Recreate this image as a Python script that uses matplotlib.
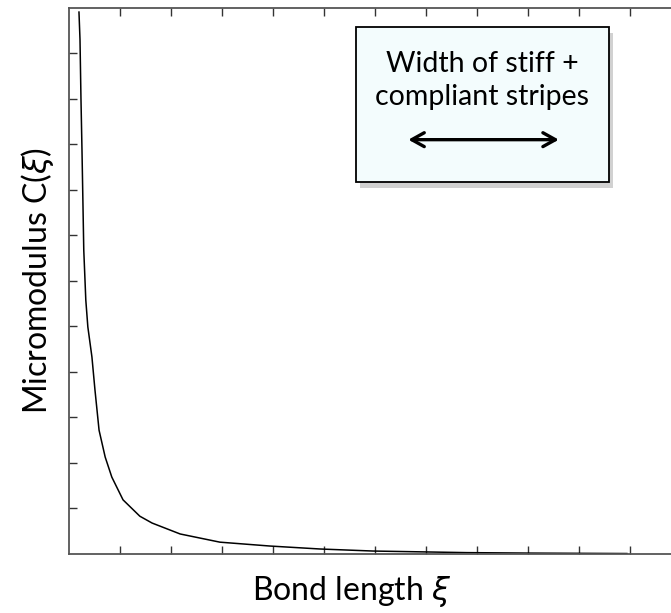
import matplotlib
matplotlib.use("Agg")
import matplotlib.pyplot as plt
import matplotlib.patheffects as pe
from matplotlib.patches import FancyBboxPatch
import numpy as np

plt.rcParams['font.family'] = ['Lato', 'DejaVu Sans']
plt.rcParams['mathtext.fontset'] = 'dejavusans'

# micromodulus profile, arbitrary units (12 x 12 tick grid)
bond_length = [0.196, 0.216, 0.235, 0.255, 0.275, 0.29, 0.33, 0.37, 0.45, 0.51,
               0.59, 0.71, 0.84, 1.06, 1.39, 1.63, 2.18, 2.96, 3.94, 4.92,
               5.96, 7.8, 9.0, 10.94]
micromodulus = [11.9, 11.3, 10.0, 8.87, 7.62, 6.67, 5.57, 4.98, 4.32, 3.59,
                2.71, 2.12, 1.68, 1.18, 0.82, 0.67, 0.43, 0.25, 0.165, 0.10,
                0.055, 0.02, 0.01, 0.0]

box_lines = ["Width of stiff +", "compliant stripes"]

fig = plt.figure(figsize=(6.71, 6.13), dpi=100)
ax = fig.add_axes([0.1028, 0.097, 0.912, 0.8907])

ax.plot(bond_length, micromodulus, color='black', lw=1.1)

ax.set_xlim(0, 12)
ax.set_ylim(0, 12)
ax.set_xticks(np.arange(1, 12))
ax.set_yticks(np.arange(1, 12))
ax.tick_params(direction='in', length=6, width=1, color='#333333',
               top=True, right=True, labelbottom=False, labelleft=False)
for sp in ax.spines.values():
    sp.set_color('#555555')
    sp.set_linewidth(1.3)

ax.set_xlabel(r'Bond length $\xi$', fontsize=23)
ax.xaxis.set_label_coords(0.462, -0.038)
ax.set_ylabel(r'Micromodulus C($\xi$)', fontsize=23, labelpad=9)

# annotation box with drop shadow
box = FancyBboxPatch((0.469, 0.680), 0.413, 0.284, boxstyle='square,pad=0',
                     transform=ax.transAxes, facecolor='#f3fcfd',
                     edgecolor='black', lw=1.3, zorder=3)
box.set_path_effects([pe.SimplePatchShadow(offset=(3, -4), shadow_rgbFace='#999999',
                                           alpha=0.45), pe.Normal()])
ax.add_patch(box)
ax.text(0.675, 0.897, box_lines[0], transform=ax.transAxes, ha='center',
        va='center', fontsize=20.5, zorder=4)
ax.text(0.675, 0.836, box_lines[1], transform=ax.transAxes, ha='center',
        va='center', fontsize=20.5, zorder=4)
ax.annotate('', xy=(0.550, 0.758), xytext=(0.805, 0.758), xycoords='axes fraction',
            arrowprops=dict(arrowstyle='<->,head_length=0.9,head_width=0.5',
                            lw=2.4, color='black'), zorder=4)

fig.savefig('out.png', dpi=100)
